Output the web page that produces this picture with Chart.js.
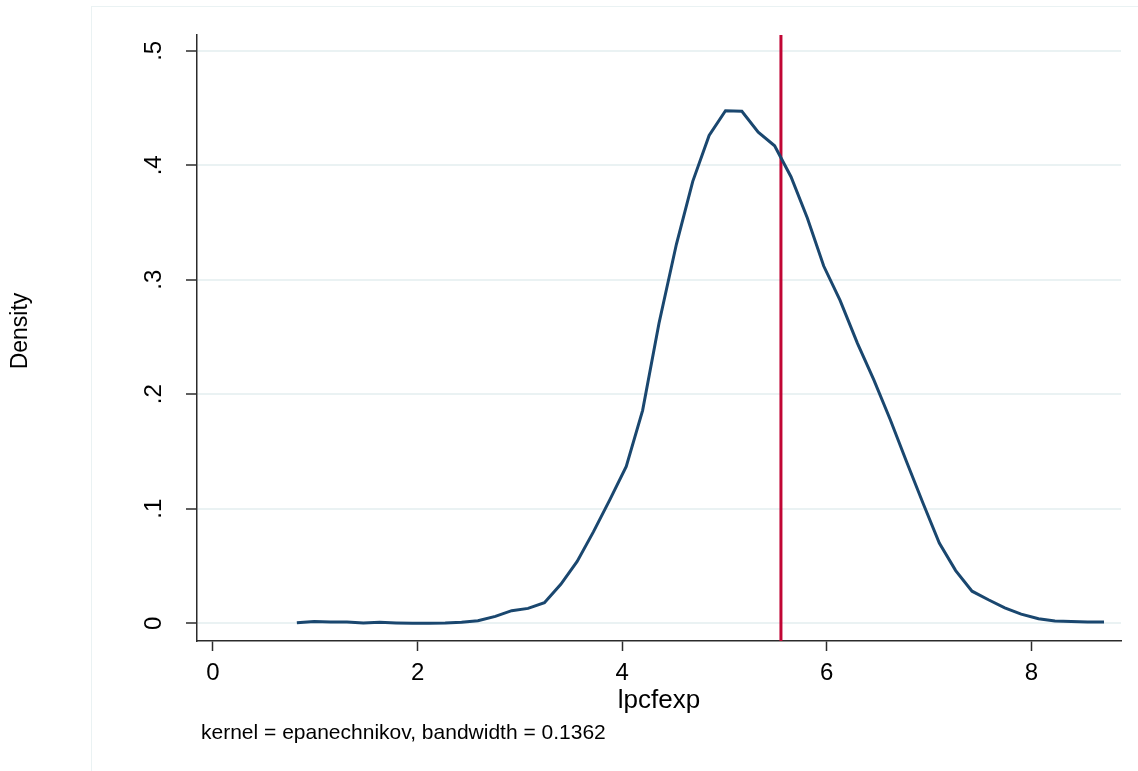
<!DOCTYPE html>
<html>
<head>
<meta charset="utf-8">
<script src="https://cdn.jsdelivr.net/npm/chart.js@4/dist/chart.umd.min.js"></script>
<style>
  html, body { margin: 0; padding: 0; background: #fff; }
  canvas { display: block; }
</style>
</head>
<body>
<canvas id="kdensity" width="1138" height="771"></canvas>
<script>
// --- Data: kernel density of lpcfexp (50 evaluation points) ---
const evalPoints = [0.82, 0.99, 1.15, 1.31, 1.47, 1.63, 1.79, 1.95, 2.11, 2.27,
  2.43, 2.59, 2.76, 2.92, 3.08, 3.24, 3.40, 3.56, 3.72, 3.88,
  4.04, 4.20, 4.36, 4.53, 4.69, 4.85, 5.01, 5.17, 5.33, 5.49,
  5.65, 5.81, 5.97, 6.13, 6.30, 6.46, 6.62, 6.78, 6.94, 7.10,
  7.26, 7.42, 7.58, 7.74, 7.90, 8.07, 8.23, 8.39, 8.55, 8.71];
const densityValues = [0.0005, 0.0015, 0.001, 0.001, 0.0002, 0.0008, 0.0003, 0.0001, 0.0001, 0.0002,
  0.0008, 0.0022, 0.006, 0.011, 0.013, 0.018, 0.034, 0.054, 0.080, 0.108,
  0.137, 0.186, 0.262, 0.331, 0.386, 0.426, 0.4477, 0.4472, 0.429, 0.417,
  0.390, 0.354, 0.312, 0.282, 0.2445, 0.2125, 0.178, 0.141, 0.105, 0.070,
  0.046, 0.028, 0.0205, 0.0135, 0.008, 0.004, 0.002, 0.0015, 0.001, 0.001];
const meanLine = 5.552;          // vertical reference line (xline)
const xTickStep = 2;
const yTickStep = 0.1;
const xRange = [-0.156, 8.876];
const yRange = [-0.0155, 0.5138];

const xTitle = 'lpcfexp';
const yTitle = 'Density';
const noteText = 'kernel = epanechnikov, bandwidth = 0.1362';

// --- Styles ---
const FONT = '"Liberation Sans", Arial, Helvetica, sans-serif';
const NAVY = '#1a476f';
const CRANBERRY = '#c10534';
const GRID = '#eaf2f3';
const AXIS = '#2b2b2b';

const curvePoints = evalPoints.map((x, i) => ({ x: x, y: densityValues[i] }));
const meanPoints = [{ x: meanLine, y: yRange[0] }, { x: meanLine, y: yRange[1] }];

function fmtY(v) {
  if (Math.abs(v) < 1e-9) return '0';
  return v.toFixed(1).replace(/^0/, '');
}

// draws rotated y tick labels, axis titles, note and the outer frame
const textPlugin = {
  id: 'stataText',
  beforeDraw(chart) {
    const ctx = chart.ctx;
    ctx.save();
    ctx.strokeStyle = GRID;
    ctx.lineWidth = 1;
    ctx.strokeRect(91.5, 6.5, 1200, 900);
    ctx.restore();
  },
  afterDraw(chart) {
    const ctx = chart.ctx;
    const yScale = chart.scales.y;
    ctx.save();
    ctx.fillStyle = '#000';
    ctx.textAlign = 'center';
    ctx.textBaseline = 'alphabetic';

    ctx.font = '24px ' + FONT;
    yScale.ticks.forEach(t => {
      const py = yScale.getPixelForValue(t.value);
      ctx.save();
      ctx.translate(161, py);
      ctx.rotate(-Math.PI / 2);
      ctx.fillText(fmtY(t.value), 0, 0);
      ctx.restore();
    });

    ctx.font = '23px ' + FONT;
    ctx.save();
    ctx.translate(27, 331);
    ctx.rotate(-Math.PI / 2);
    ctx.fillText(yTitle, 0, 0);
    ctx.restore();

    const area = chart.chartArea;
    ctx.font = '26px ' + FONT;
    ctx.fillText(xTitle, (area.left + area.right) / 2, 708);

    ctx.font = '21px ' + FONT;
    ctx.textAlign = 'left';
    ctx.fillText(noteText, 201, 739);
    ctx.restore();
  }
};

new Chart(document.getElementById('kdensity'), {
  type: 'line',
  data: {
    datasets: [{
      label: 'density',
      data: curvePoints,
      borderColor: NAVY,
      borderWidth: 3,
      pointRadius: 0,
      tension: 0,
      fill: false
    }, {
      label: 'mean',
      data: meanPoints,
      borderColor: CRANBERRY,
      borderWidth: 3,
      pointRadius: 0,
      fill: false
    }]
  },
  options: {
    responsive: false,
    animation: false,
    layout: { padding: { left: 0, top: 35, right: 17, bottom: 0 } },
    plugins: { legend: { display: false }, tooltip: { enabled: false } },
    scales: {
      x: {
        type: 'linear',
        min: xRange[0],
        max: xRange[1],
        ticks: {
          stepSize: xTickStep,
          includeBounds: false,
          padding: 8,
          color: '#000',
          font: { family: FONT, size: 24 },
          callback: v => String(v)
        },
        grid: { drawOnChartArea: false, drawTicks: true, tickLength: 10, tickColor: AXIS, tickWidth: 1.5 },
        border: { display: true, color: AXIS, width: 1.5 },
        afterFit: s => { s.height = 130; }
      },
      y: {
        type: 'linear',
        min: yRange[0],
        max: yRange[1],
        ticks: {
          stepSize: yTickStep,
          includeBounds: false,
          display: false
        },
        grid: { color: GRID, lineWidth: 2, drawTicks: true, tickLength: 11, tickColor: AXIS, tickWidth: 1.5 },
        border: { display: true, color: AXIS, width: 1.5 },
        afterFit: s => { s.width = 197; }
      }
    }
  },
  plugins: [textPlugin]
});
</script>
</body>
</html>
